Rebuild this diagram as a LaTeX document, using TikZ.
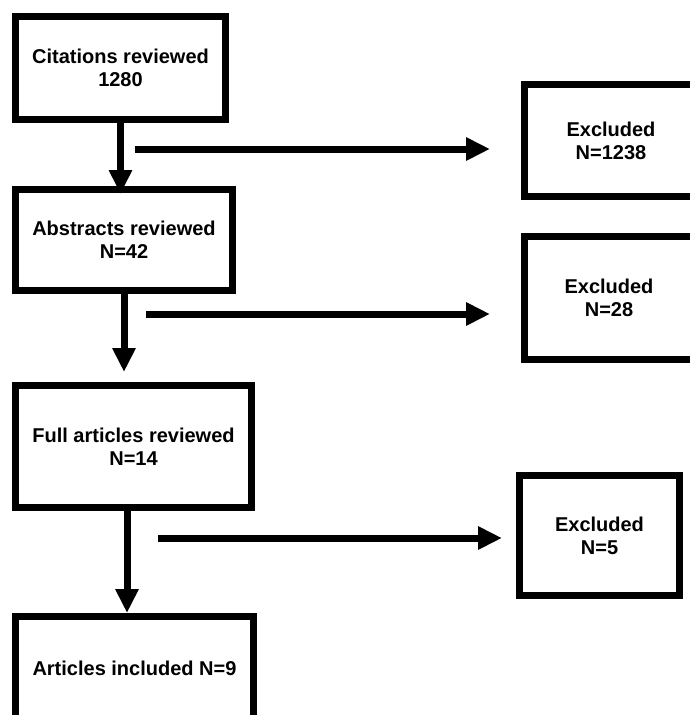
\documentclass[tikz,border=0pt]{standalone}
\usepackage{fontspec}
\setmainfont{Liberation Sans}
\usetikzlibrary{arrows.meta}
\begin{document}
\begin{tikzpicture}[x=1pt,y=-1pt,
    stage/.style={draw,line width=7pt,align=center,inner sep=0pt,
      font=\fontsize{20}{23}\selectfont\bfseries},
    flow/.style={line width=7pt,-{Triangle[width=22pt,length=24pt]}}]
    \useasboundingbox (0,0) rectangle (689,715);

    \node[stage,minimum width=210,minimum height=103] (cite) at (120.5,68) {Citations reviewed\\1280};
    \node[stage,minimum width=217,minimum height=101] (abst) at (124,240) {Abstracts reviewed\\N=42};
    \node[stage,minimum width=236,minimum height=122] (full) at (133.5,446.5) {Full articles reviewed\\N=14};
    \node[stage,minimum width=238,minimum height=103] (incl) at (134.5,668) {Articles included N=9};

    \node[stage,minimum width=173,minimum height=112] (excl1) at (611,140.5) {Excluded\\N=1238};
    \node[stage,minimum width=169,minimum height=123] (excl2) at (609,298) {Excluded\\N=28};
    \node[stage,minimum width=160,minimum height=120] (excl3) at (599.5,535.5) {Excluded\\N=5};

    \draw[flow,shorten >=-8pt] (cite.south) -- (cite.south |- abst.north);
    \draw[flow,shorten >=10pt] (abst.south) -- (abst.south |- full.north);
    \draw[flow] ([xshift=-6.5]full.south) -- ([xshift=-6.5]full.south |- incl.north);

    \coordinate (out1) at (135,149);
    \coordinate (out2) at (146,314);
    \coordinate (out3) at (158,538);
    \draw[flow] (out1) -- ([xshift=-31]out1 -| excl1.west);
    \draw[flow] (out2) -- ([xshift=-31]out2 -| excl2.west);
    \draw[flow] (out3) -- ([xshift=-14]out3 -| excl3.west);
  \end{tikzpicture}
\end{document}
